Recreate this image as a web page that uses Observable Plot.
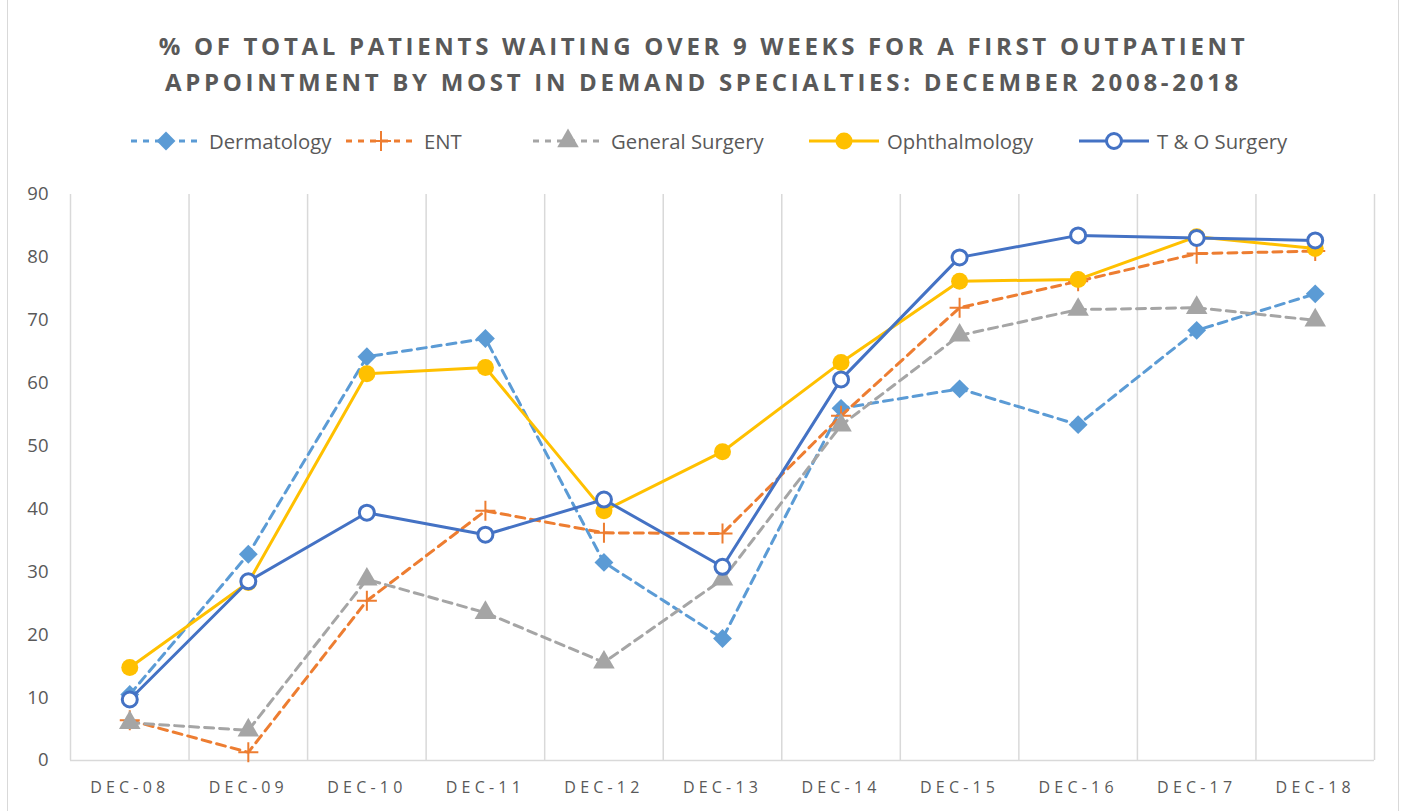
<!DOCTYPE html>
<html>
<head>
<meta charset="utf-8">
<script src="https://cdn.jsdelivr.net/npm/d3@7"></script>
<script src="https://cdn.jsdelivr.net/npm/@observablehq/plot@0.6"></script>
<style>
  html, body { margin: 0; padding: 0; background: #fff; }
  body { width: 1407px; height: 811px; position: relative; overflow: hidden; font-family: "Open Sans", "Liberation Sans", sans-serif; }
  #frame { position: absolute; left: 7px; top: -2px; width: 1392px; height: 815px; border: 1px solid #d9d9d9; box-sizing: border-box; }
  #title { position: absolute; left: 0; top: 28px; width: 1407px; text-align: center; font-size: 24px; font-weight: bold; color: #595959; letter-spacing: 3.7px; line-height: 36px; }
  #legend { position: absolute; left: 0; top: 127px; width: 1407px; height: 28px; font-size: 20.3px; color: #595959; }
  .item { position: absolute; top: 0; display: flex; align-items: center; height: 28px; }
  .item svg { margin-right: 7px; }
  #chart { position: absolute; left: 0; top: 170px; }
</style>
</head>
<body>
<div id="frame"></div>
<div id="title">% OF TOTAL PATIENTS WAITING OVER 9 WEEKS FOR A FIRST OUTPATIENT<br>APPOINTMENT BY MOST IN DEMAND SPECIALTIES: DECEMBER 2008-2018</div>
<div id="legend"></div>
<div id="chart"></div>
<script>
const categories = ["DEC-08","DEC-09","DEC-10","DEC-11","DEC-12","DEC-13","DEC-14","DEC-15","DEC-16","DEC-17","DEC-18"];
const yTicks = [0,10,20,30,40,50,60,70,80,90];

const seriesNames = ["Dermatology","ENT","General Surgery","Ophthalmology","T & O Surgery"];
const seriesColors = ["#5B9BD5","#ED7D31","#A5A5A5","#FFC000","#4472C4"];

const dermatology   = [10.5, 32.8, 64.2, 67.1, 31.5, 19.4, 56.0, 59.1, 53.4, 68.4, 74.2];
const ent           = [6.4, 1.3, 25.4, 39.7, 36.2, 36.1, 54.8, 72.0, 76.2, 80.6, 81.0];
const generalSurgery= [6.0, 4.8, 28.8, 23.5, 15.6, 28.8, 53.3, 67.6, 71.7, 72.0, 70.0];
const ophthalmology = [14.8, 28.3, 61.5, 62.5, 39.7, 49.1, 63.3, 76.2, 76.5, 83.3, 81.4];
const tAndO         = [9.7, 28.5, 39.4, 35.9, 41.5, 30.8, 60.6, 80.0, 83.5, 83.1, 82.7];

const seriesValues = [dermatology, ent, generalSurgery, ophthalmology, tAndO];

const rowsFor = (k) => seriesValues[k].map((v, i) => ({series: seriesNames[k], i, cat: categories[i], value: v}));
const rows = seriesNames.map((_, k) => rowsFor(k));

const dash = "9,6";
const lineOpts = [
  {strokeDasharray: dash},
  {strokeDasharray: dash},
  {strokeDasharray: dash},
  {},
  {}
];

const marks = [
  Plot.ruleX(d3.range(categories.length + 1), {x: d => d - 0.5, y1: 0, y2: 90, stroke: "#d9d9d9", strokeWidth: 1.5}),
  Plot.ruleY([0], {stroke: "#d9d9d9", strokeWidth: 1.5})
];
seriesNames.forEach((name, k) => {
  marks.push(Plot.lineY(rows[k], {x: "i", y: "value", stroke: seriesColors[k], strokeWidth: 3, ...lineOpts[k]}));
  if (k === 0) marks.push(Plot.dot(rows[k], {x: "i", y: "value", symbol: "diamond2", fill: seriesColors[k], r: 8.5}));
  if (k === 1) marks.push(Plot.dot(rows[k], {x: "i", y: "value", symbol: "plus", stroke: seriesColors[k], strokeWidth: 2, r: 6.5}));
  if (k === 2) marks.push(Plot.dot(rows[k], {x: "i", y: "value", symbol: "triangle", fill: seriesColors[k], r: 8}));
  if (k === 3) marks.push(Plot.dot(rows[k], {x: "i", y: "value", symbol: "circle", fill: seriesColors[k], r: 8.5}));
  if (k === 4) marks.push(Plot.dot(rows[k], {x: "i", y: "value", symbol: "circle", fill: "white", stroke: seriesColors[k], strokeWidth: 3, r: 7.5}));
});

const chart = Plot.plot({
  width: 1407,
  height: 640,
  marginLeft: 70,
  marginRight: 33,
  marginTop: 24,
  marginBottom: 50,
  style: {fontFamily: "'Open Sans', sans-serif", color: "#595959", background: "transparent"},
  x: {domain: [-0.5, categories.length - 0.5], ticks: d3.range(categories.length), tickFormat: i => categories[i], tickSize: 0, tickPadding: 21, label: null},
  y: {domain: [0, 90], ticks: yTicks, tickSize: 0, tickPadding: 22, label: null},
  marks
});
document.getElementById("chart").appendChild(chart);

// axis text styling
chart.querySelectorAll('[aria-label^="x-axis"] text').forEach(t => {
  t.style.fontSize = "16px"; t.style.letterSpacing = "4.2px"; t.setAttribute("fill", "#595959");
});
chart.querySelectorAll('[aria-label^="y-axis"] text').forEach(t => {
  t.style.fontSize = "18.5px"; t.setAttribute("fill", "#595959");
});
chart.querySelectorAll('[aria-label^="x-axis"] path, [aria-label^="y-axis"] path').forEach(p => p.remove());

// legend
const legendX = [130, 345, 532, 808, 1078];
const legend = document.getElementById("legend");
const symbols = [d3.symbolDiamond2, d3.symbolPlus, d3.symbolTriangle, d3.symbolCircle, d3.symbolCircle];
const symbolSizes = [Math.PI*8.5*8.5, Math.PI*6.5*6.5, Math.PI*8*8, Math.PI*8.5*8.5, Math.PI*7.5*7.5];
seriesNames.forEach((name, k) => {
  const div = document.createElement("div");
  div.className = "item";
  div.style.left = legendX[k] + "px";
  const svg = d3.create("svg").attr("width", 72).attr("height", 28);
  svg.append("line").attr("x1", 1).attr("x2", 71).attr("y1", 14).attr("y2", 14)
    .attr("stroke", seriesColors[k]).attr("stroke-width", 3)
    .attr("stroke-dasharray", lineOpts[k].strokeDasharray ? "6,6" : null);
  const p = svg.append("path").attr("transform", "translate(36,14)")
    .attr("d", d3.symbol(symbols[k], symbolSizes[k])());
  if (k === 1) p.attr("fill", "none").attr("stroke", seriesColors[k]).attr("stroke-width", 2);
  else if (k === 4) p.attr("fill", "white").attr("stroke", seriesColors[k]).attr("stroke-width", 3);
  else p.attr("fill", seriesColors[k]);
  div.appendChild(svg.node());
  const span = document.createElement("span");
  span.textContent = name;
  div.appendChild(span);
  legend.appendChild(div);
});
</script>
</body>
</html>
